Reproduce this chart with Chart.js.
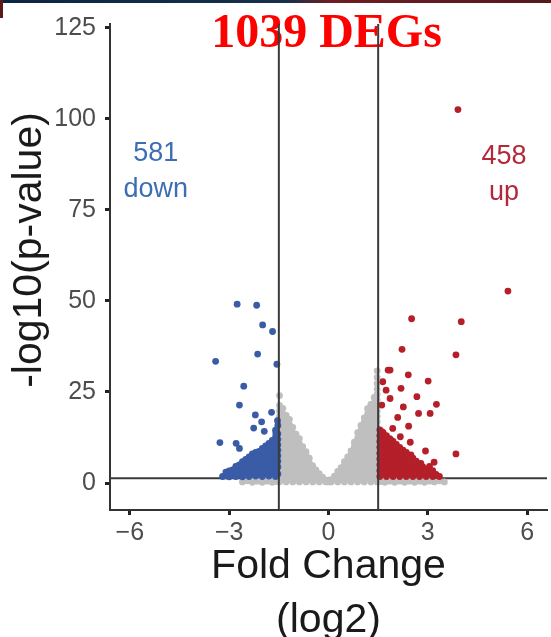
<!DOCTYPE html>
<html>
<head>
<meta charset="utf-8">
<script src="https://cdn.jsdelivr.net/npm/chart.js@4.4.0/dist/chart.umd.min.js"></script>
<style>
  html, body { margin: 0; padding: 0; background: #fff; overflow: hidden; }
  #wrap { position: relative; width: 551px; height: 650px; }
  #topband { position: absolute; left: 0; top: 0; width: 551px; height: 3px;
    background: linear-gradient(90deg, #0c2440 0%, #16304c 52%, #6d1d22 60%, #55191c 100%); z-index: 2; }
  #leftmark { position: absolute; left: 0; top: 0; width: 3px; height: 18px; background: #5a1a1a; z-index: 2; }
</style>
</head>
<body>
<div id="wrap">
  <div id="topband"></div>
  <div id="leftmark"></div>
  <canvas id="volcano"></canvas>
</div>
<script>
// thresholds
const fcCut = 1.5;      // |log2 FC|
const pCut = 1.3;       // -log10(0.05)

const xTicks = [-6, -3, 0, 3, 6];
const yTicks = [0, 25, 50, 75, 100, 125];

const upCount = 458;
const downCount = 581;

// not significant points, given as [x, [y...]] columns
const grayCols = [
  [-2.6,[0.3]], [-2.45,[0.6]], [-2.3,[0.2,0.9]], [-2.15,[0.5]], [-2.0,[0.2,0.9]],
  [-1.85,[0.5,1.1]], [-1.7,[0.2,0.8]], [-1.58,[0.4,1.1]],
  [-1.48,[0.3,1.8,3.3,4.8,6.3,7.8,9.3,10.8,12.3,13.8,15.3,16.8,18.3,19.8,21.3,24.0]],
  [-1.38,[1.0,2.5,4.0,5.5,7.0,8.5,10.0,11.5,13.0,14.5,16.0,17.5,19.0,20.5]],
  [-1.28,[0.3,1.8,3.3,4.8,6.3,7.8,9.3,10.8,12.3,13.8,15.3,16.8,18.6]],
  [-1.18,[1.0,2.5,4.0,5.5,7.0,8.5,10.0,11.5,13.0,14.5,16.0,17.5]],
  [-1.08,[0.3,1.8,3.3,4.8,6.3,7.8,9.3,10.8,12.3,13.8,15.3]],
  [-0.98,[1.0,2.5,4.0,5.5,7.0,8.5,10.0,11.5,13.4]],
  [-0.88,[0.3,1.8,3.3,4.8,6.3,7.8,9.3,10.8,12.2]],
  [-0.78,[1.0,2.5,4.0,5.5,7.0,8.5,10.0]],
  [-0.68,[0.3,1.8,3.3,4.8,6.3,7.8,8.6]],
  [-0.58,[1.0,2.5,4.0,5.5,6.8]],
  [-0.48,[0.3,1.8,3.3,4.8]],
  [-0.38,[1.0,2.5,3.6]],
  [-0.28,[0.3,1.8,2.6]],
  [-0.18,[1.0,1.6]],
  [-0.08,[0.3,0.8]],
  [0.02,[0.3]],
  [0.08,[0.3,0.9]],
  [0.18,[1.0,1.9]],
  [0.28,[0.3,1.8,3.2]],
  [0.38,[1.0,2.5,4.2]],
  [0.48,[0.3,1.8,3.3,4.8,5.9]],
  [0.58,[1.0,2.5,4.0,5.5,7.2]],
  [0.68,[0.3,1.8,3.3,4.8,6.3,7.8,8.8]],
  [0.78,[1.0,2.5,4.0,5.5,7.0,8.5,10.0,11.2]],
  [0.88,[0.3,1.8,3.3,4.8,6.3,7.8,9.3,10.8,12.3,13.8]],
  [0.98,[1.0,2.5,4.0,5.5,7.0,8.5,10.0,11.5,13.0,14.5,15.8]],
  [1.08,[0.3,1.8,3.3,4.8,6.3,7.8,9.3,10.8,12.3,13.8,15.3,16.8,17.9]],
  [1.18,[1.0,2.5,4.0,5.5,7.0,8.5,10.0,11.5,13.0,14.5,16.0,17.5,19.0,20.4]],
  [1.28,[0.3,1.8,3.3,4.8,6.3,7.8,9.3,10.8,12.3,13.8,15.3,16.8,18.3,19.8,21.6]],
  [1.38,[1.0,2.5,4.0,5.5,7.0,8.5,10.0,11.5,13.0,14.5,16.0,17.5,19.0,20.5,22.0,23.5]],
  [1.47,[0.3,1.8,3.3,4.8,6.3,7.8,9.3,10.8,12.3,13.8,15.3,16.8,18.3,19.8,21.3,22.8,24.3,25.8,27.3,29.0,30.8]],
  [1.58,[0.4,1.1]], [1.7,[0.2,0.8]], [1.85,[0.5,1.1]], [2.0,[0.2,0.9]], [2.15,[0.5]],
  [2.3,[0.2,0.9]], [2.45,[0.5]], [2.6,[0.2,0.8]], [2.75,[0.5]], [2.9,[0.2,0.9]],
  [3.05,[0.5]], [3.2,[0.3]], [3.35,[0.6]], [3.5,[0.3]]
];

// down-regulated
const downCols = [
  [-3.2,[1.8]], [-3.1,[2.0,3.0]], [-3.0,[1.7,3.3]], [-2.9,[2.1,3.6]],
  [-2.8,[1.8,3.2,4.6]], [-2.7,[2.2,3.8,5.0]], [-2.6,[1.7,3.1,4.6,5.9]],
  [-2.5,[2.3,3.9,5.4,6.5]], [-2.4,[1.8,3.2,4.7,6.2,7.1]], [-2.3,[2.4,4.0,5.5,7.0,8.0]],
  [-2.2,[1.9,3.3,4.8,6.3,7.6,8.4]], [-2.1,[2.5,4.1,5.6,7.1,8.7]],
  [-2.0,[1.8,3.4,4.9,6.4,7.9,9.5]], [-1.9,[2.6,4.2,5.7,7.2,8.7,10.2]],
  [-1.8,[1.9,3.5,5.0,6.5,8.0,9.5,10.9]], [-1.7,[2.7,4.3,5.8,7.3,8.8,10.3,11.7]],
  [-1.6,[1.8,3.6,5.1,6.6,8.1,9.6,11.1,12.6,14.5]],
  [-1.53,[2.5,4.4,6.0,7.5,9.0,10.5,12.0,13.5,15.8]]
];
const downOut = [
  [-2.76,49.1], [-2.17,48.8], [-1.99,43.4], [-1.69,41.6], [-3.41,33.4], [-2.14,35.4],
  [-1.56,32.6], [-2.56,26.6], [-2.69,21.4], [-2.21,18.7], [-1.72,19.4], [-2.02,16.8],
  [-2.26,15.1], [-1.54,17.1], [-1.94,14.2], [-3.28,11.1], [-2.79,10.9], [-2.69,9.5],
  [-1.59,13.6], [-2.39,7.2]
];

// up-regulated
const upCols = [
  [1.55,[1.8,3.4,5.0,6.6,8.2,9.8,11.4,13.0,14.6]],
  [1.65,[2.6,4.2,5.8,7.4,9.0,10.6,12.2,13.8]],
  [1.75,[1.8,3.4,5.0,6.6,8.2,9.8,11.4,13.0]],
  [1.85,[2.6,4.2,5.8,7.4,9.0,10.6,12.2]],
  [1.95,[1.8,3.4,5.0,6.6,8.2,9.8,11.4]],
  [2.05,[2.6,4.2,5.8,7.4,9.0,10.6]],
  [2.15,[1.8,3.4,5.0,6.6,8.2,9.8]],
  [2.25,[2.6,4.2,5.8,7.4,9.0]],
  [2.35,[1.8,3.4,5.0,6.6,8.4]],
  [2.45,[2.6,4.2,5.8,7.6]],
  [2.55,[1.8,3.4,5.0,6.8]],
  [2.65,[2.6,4.2,6.0]],
  [2.75,[1.8,3.4,5.2]],
  [2.85,[2.6,4.4]],
  [2.95,[1.8,3.6]],
  [3.05,[2.6,4.6]],
  [3.15,[1.8,3.4]],
  [3.25,[2.4]],
  [3.35,[1.8]]
];
const upOut = [
  [3.91,102.5], [5.42,52.7], [2.51,45.1], [4.01,44.3], [2.22,36.7], [3.85,35.2],
  [3.85,8.0], [1.86,31.0], [1.80,31.0], [2.41,29.7], [3.01,28.0], [2.19,26.0],
  [2.67,23.7], [3.26,21.6], [2.26,20.9], [2.72,19.1], [3.07,19.1], [2.09,18.0],
  [2.42,15.6], [1.94,15.0], [2.47,11.2], [2.93,8.8], [3.19,5.7], [1.64,27.8],
  [1.74,25.5], [1.86,23.2], [1.61,21.4], [1.61,14.1], [2.17,12.7], [1.89,11.8],
  [2.49,7.7], [2.79,5.4], [3.13,3.1]
];

const fromCols = cols => cols.flatMap(([x, ys]) => ys.map(y => ({x, y})));
const fromPairs = pairs => pairs.map(([x, y]) => ({x, y}));

const xMin = -6.6, xMax = 6.6, yMin = -7.4, yMax = 126;

Chart.defaults.font.family = "'Liberation Sans', Arial, sans-serif";

// text drawn over the plot: title, y title and up/down counts
const labelsPlugin = {
  id: 'volcanoLabels',
  beforeDatasetsDraw(chart) {
    const {ctx, chartArea} = chart;
    ctx.save();
    ctx.fillStyle = '#ff0000';
    ctx.font = "bold 48px 'Liberation Serif', 'Times New Roman', serif";
    ctx.textAlign = 'center';
    ctx.textBaseline = 'alphabetic';
    ctx.fillText(upCount + downCount + ' DEGs', chartArea.left + chartArea.width / 2 - 2, chartArea.top + 23);
    // y axis title, sits a bit above the plot centre like the original
    ctx.fillStyle = '#1a1a1a';
    ctx.font = "41px 'Liberation Sans', Arial, sans-serif";
    ctx.translate(chartArea.left - 80, chartArea.top + 226);
    ctx.rotate(-Math.PI / 2);
    ctx.textBaseline = 'middle';
    ctx.fillText('-log10(p-value)', 0, 0);
    ctx.restore();
  },
  afterDatasetsDraw(chart) {
    const {ctx, scales: {x, y}} = chart;
    const notes = [
      {text: [String(downCount), 'down'], vx: -5.22, vy: 88.5, color: '#3d6db3'},
      {text: [String(upCount), 'up'], vx: 5.3, vy: 87.5, color: '#b3283a'}
    ];
    ctx.save();
    ctx.font = "27px 'Liberation Sans', Arial, sans-serif";
    ctx.textAlign = 'center';
    ctx.textBaseline = 'alphabetic';
    notes.forEach(n => {
      ctx.fillStyle = n.color;
      const px = x.getPixelForValue(n.vx);
      const py = y.getPixelForValue(n.vy);
      n.text.forEach((t, i) => ctx.fillText(t, px, py + i * 36));
    });
    ctx.restore();
  }
};

const ctx = document.getElementById('volcano').getContext('2d');
new Chart(ctx, {
  type: 'scatter',
  data: {
    datasets: [
      {
        label: 'p cut',
        data: [{x: xMin, y: pCut}, {x: xMax, y: pCut}],
        showLine: true, borderColor: '#3a3a3a', borderWidth: 2, pointRadius: 0, order: 5
      },
      {
        label: 'NS',
        data: fromCols(grayCols),
        backgroundColor: '#bfbfbf', pointRadius: 3.4, borderWidth: 0, order: 4
      },
      {
        label: 'down',
        data: fromCols(downCols).concat(fromPairs(downOut)),
        backgroundColor: '#3a5ca7', pointRadius: 3.4, borderWidth: 0, order: 2
      },
      {
        label: 'up',
        data: fromCols(upCols).concat(fromPairs(upOut)),
        backgroundColor: '#b41f2a', pointRadius: 3.4, borderWidth: 0, order: 2
      },
      {
        label: 'fc left',
        data: [{x: -fcCut, y: yMin}, {x: -fcCut, y: yMax}],
        showLine: true, borderColor: '#3a3a3a', borderWidth: 2, pointRadius: 0, order: 0
      },
      {
        label: 'fc right',
        data: [{x: fcCut, y: yMin}, {x: fcCut, y: yMax}],
        showLine: true, borderColor: '#3a3a3a', borderWidth: 2, pointRadius: 0, order: 0
      }
    ]
  },
  options: {
    responsive: true,
    maintainAspectRatio: false,
    animation: false,
    layout: { padding: { top: 24, right: 0, left: 0, bottom: 0 } },
    plugins: { legend: { display: false }, tooltip: { enabled: false } },
    scales: {
      x: {
        type: 'linear', min: xMin, max: xMax,
        afterBuildTicks: s => { s.ticks = xTicks.map(v => ({value: v})); },
        afterFit: s => { s.height = 140; },
        ticks: {
          color: '#4d4d4d', font: {size: 25}, padding: 3,
          callback: v => (v < 0 ? '\u2212' + Math.abs(v) : String(v))
        },
        grid: { drawOnChartArea: false, drawTicks: true, tickLength: 5, tickWidth: 3, tickColor: '#222' },
        border: { display: true, color: '#333', width: 2 },
        title: {
          display: true, text: ['Fold Change', '(log2)'], color: '#1a1a1a',
          font: {size: 41, lineHeight: 1.3}, padding: {top: 0, bottom: 3}
        }
      },
      y: {
        type: 'linear', min: yMin, max: yMax,
        afterBuildTicks: s => { s.ticks = yTicks.map(v => ({value: v})); },
        afterFit: s => { s.width = 110; },
        ticks: { color: '#4d4d4d', font: {size: 25}, padding: 9 },
        grid: { drawOnChartArea: false, drawTicks: true, tickLength: 5, tickWidth: 3, tickColor: '#222' },
        border: { display: true, color: '#333', width: 2 },
        title: { display: false }
      }
    }
  },
  plugins: [labelsPlugin]
});
</script>
</body>
</html>
